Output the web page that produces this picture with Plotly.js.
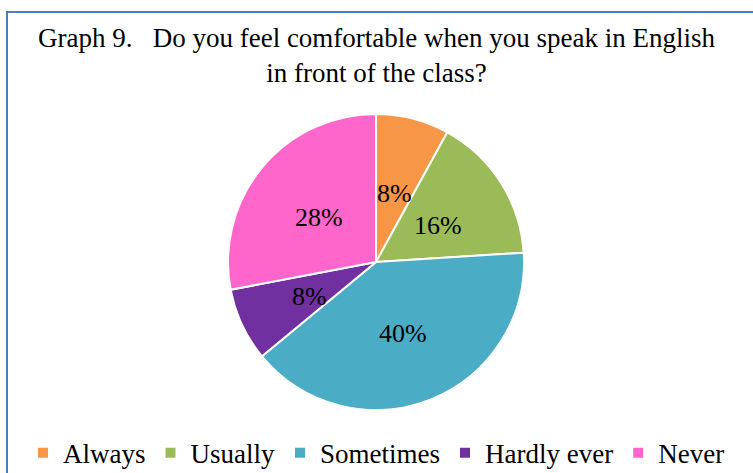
<!DOCTYPE html>
<html>
<head>
<meta charset="utf-8">
<script src="https://cdn.plot.ly/plotly-3.0.1.min.js"></script>
<style>
html,body{margin:0;padding:0;background:#fff;}
#chart{position:absolute;left:0;top:0;width:753px;height:473px;}
#frame{position:absolute;left:6px;top:11px;width:760px;height:480px;border-top:2px solid #4A7EBB;border-left:2px solid #4A7EBB;pointer-events:none;}
</style>
</head>
<body>
<div id="chart"></div>
<div id="frame"></div>
<script>
const categories = ["Always", "Usually", "Sometimes", "Hardly ever", "Never"];
const percentages = [8, 16, 40, 8, 28];
const sliceColors = ["#F79646", "#9BBB59", "#4BACC6", "#7030A0", "#FF66CC"];

const serif = "Liberation Serif, Times New Roman, serif";
const W = 753, H = 473;
const domX = [0.3028, 0.6959], domY = [0.1332, 0.759];

// label positions derived from the data: mid-angle of each slice, at half the radius
const total = percentages.reduce((a, b) => a + b, 0);
const cx = (domX[0] + domX[1]) / 2, cy = (domY[0] + domY[1]) / 2;
const radiusPx = Math.min((domX[1] - domX[0]) * W, (domY[1] - domY[0]) * H) / 2;
const labelR = 0.5 * radiusPx;
let cum = 0;
const annotations = percentages.map(v => {
  const mid = (cum + v / 2) / total * 2 * Math.PI;
  cum += v;
  return {
    xref: "paper", yref: "paper",
    x: cx + labelR * Math.sin(mid) / W,
    y: cy + labelR * Math.cos(mid) / H,
    text: v + "%",
    showarrow: false,
    xanchor: "center", yanchor: "middle",
    yshift: -3,
    font: {family: serif, size: 26, color: "#000000"}
  };
});

const data = [{
  type: "pie",
  labels: categories,
  values: percentages,
  sort: false,
  direction: "clockwise",
  rotation: 0,
  marker: {colors: sliceColors, line: {color: "#ffffff", width: 2}},
  textinfo: "none",
  hoverinfo: "label+percent",
  domain: {x: domX, y: domY}
}];

const layout = {
  width: W,
  height: H,
  margin: {l: 0, r: 0, t: 0, b: 0, autoexpand: false},
  paper_bgcolor: "#ffffff",
  title: {
    text: "Graph 9.   Do you feel comfortable when you speak in English<br>in front of the class?",
    font: {family: serif, size: 27, color: "#000000"},
    x: 0.5, xanchor: "center",
    y: 0.90, yanchor: "middle"
  },
  annotations: annotations,
  showlegend: true,
  legend: {
    orientation: "h",
    x: 0.5, xanchor: "center",
    y: -0.01, yanchor: "bottom",
    font: {family: serif, size: 27, color: "#000000"},
    traceorder: "normal"
  }
};

Plotly.newPlot("chart", data, layout, {displayModeBar: false, staticPlot: true});
</script>
</body>
</html>
